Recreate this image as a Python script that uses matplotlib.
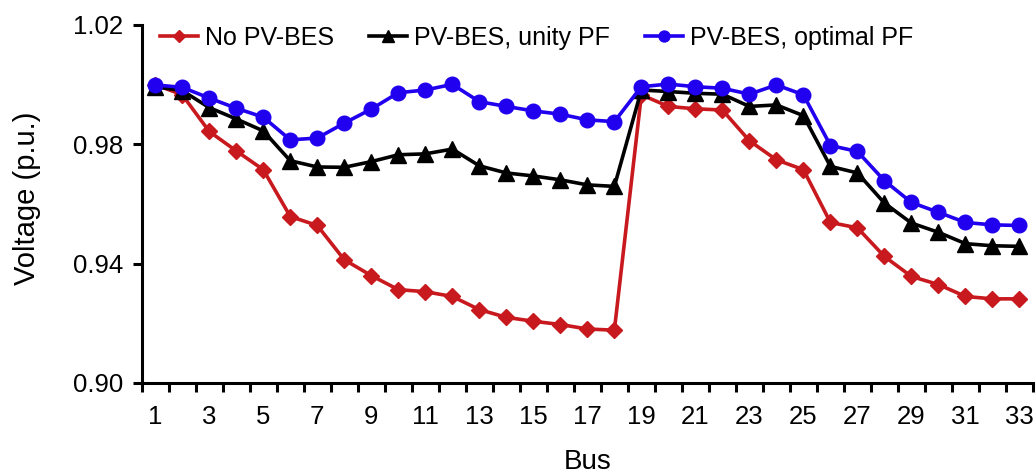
import matplotlib
matplotlib.use('Agg')
import matplotlib.pyplot as plt
import numpy as np

plt.rcParams['font.family'] = ['Liberation Sans', 'DejaVu Sans']

bus = list(range(1, 34))

# Без PV-BES
no_pv = [1.000, 0.9966, 0.9843, 0.9778, 0.9715, 0.9558, 0.9528, 0.9413, 0.9360,
         0.9313, 0.9306, 0.9290, 0.9246, 0.9220, 0.9207, 0.9196, 0.9181, 0.9177,
         0.9966, 0.9927, 0.9919, 0.9915, 0.9812, 0.9748, 0.9715, 0.9538, 0.9520,
         0.9424, 0.9357, 0.9330, 0.9290, 0.9282, 0.9282]

# PV-BES, unity PF
unity_pf = [0.9993, 0.9980, 0.9923, 0.9885, 0.9845, 0.9745, 0.9724, 0.9723, 0.9742,
            0.9765, 0.9768, 0.9784, 0.9728, 0.9704, 0.9694, 0.9681, 0.9664, 0.9659,
            0.9982, 0.9977, 0.9971, 0.9968, 0.9927, 0.9932, 0.9896, 0.9726, 0.9704,
            0.9603, 0.9536, 0.9505, 0.9467, 0.9460, 0.9458]

# PV-BES, optimal PF
optimal_pf = [0.9999, 0.9991, 0.9955, 0.9921, 0.9891, 0.9815, 0.9821, 0.9871, 0.9918,
              0.9973, 0.9982, 1.0001, 0.9943, 0.9927, 0.9912, 0.9901, 0.9882, 0.9876,
              0.9993, 1.0002, 0.9993, 0.9988, 0.9968, 0.9999, 0.9966, 0.9796, 0.9776,
              0.9678, 0.9605, 0.9572, 0.9538, 0.9530, 0.9528]

labels = ['No PV-BES', 'PV-BES, unity PF', 'PV-BES, optimal PF']
y_ticks = [0.90, 0.94, 0.98, 1.02]

fig = plt.figure(figsize=(10.36, 4.74), dpi=100)
ax = fig.add_axes([0.1368, 0.192, 0.8603, 0.7553])

ax.plot(bus, no_pv, color='#C8191E', lw=2.6, marker='D', ms=8.5, label=labels[0])
ax.plot(bus, unity_pf, color='black', lw=2.6, marker='^', ms=11.5, label=labels[1])
ax.plot(bus, optimal_pf, color='#2000EE', lw=2.6, marker='o', ms=10.5, label=labels[2])

ax.set_xlim(0.5, 33.5)
ax.set_ylim(0.90, 1.02)
ax.set_yticks(y_ticks)
ax.set_yticklabels(['%.2f' % v for v in y_ticks])

# деления между категориями, подписи только у нечётных шин
ax.set_xticks(np.arange(0.5, 34, 1))
ax.set_xticklabels([])
odd = bus[::2]
ax.set_xticks(odd, minor=True)
ax.set_xticklabels([str(b) for b in odd], minor=True)

for s in ['top', 'right']:
    ax.spines[s].set_visible(False)
for s in ['left', 'bottom']:
    ax.spines[s].set_linewidth(2.2)

ax.tick_params(which='major', direction='out', length=6.5, width=2.2,
               labelsize=18.5, pad=7)
ax.tick_params(axis='x', which='minor', length=0, labelsize=18.5, pad=16)

ax.set_ylabel('Voltage (p.u.)', fontsize=21, va='center')
ax.yaxis.set_label_coords(-0.1287, 0.515)
ax.set_xlabel('Bus', fontsize=20, va='center')
ax.xaxis.set_label_coords(0.5, -0.2207)

ax.legend(loc='center left', bbox_to_anchor=(160 / 1036, 1 - 38 / 474),
          bbox_transform=fig.transFigure, ncol=3, frameon=False, fontsize=18,
          handlelength=1.52, handletextpad=0.28, columnspacing=1.4,
          borderpad=0, borderaxespad=0, markerscale=0.75)

fig.savefig('out.png', dpi=100)
